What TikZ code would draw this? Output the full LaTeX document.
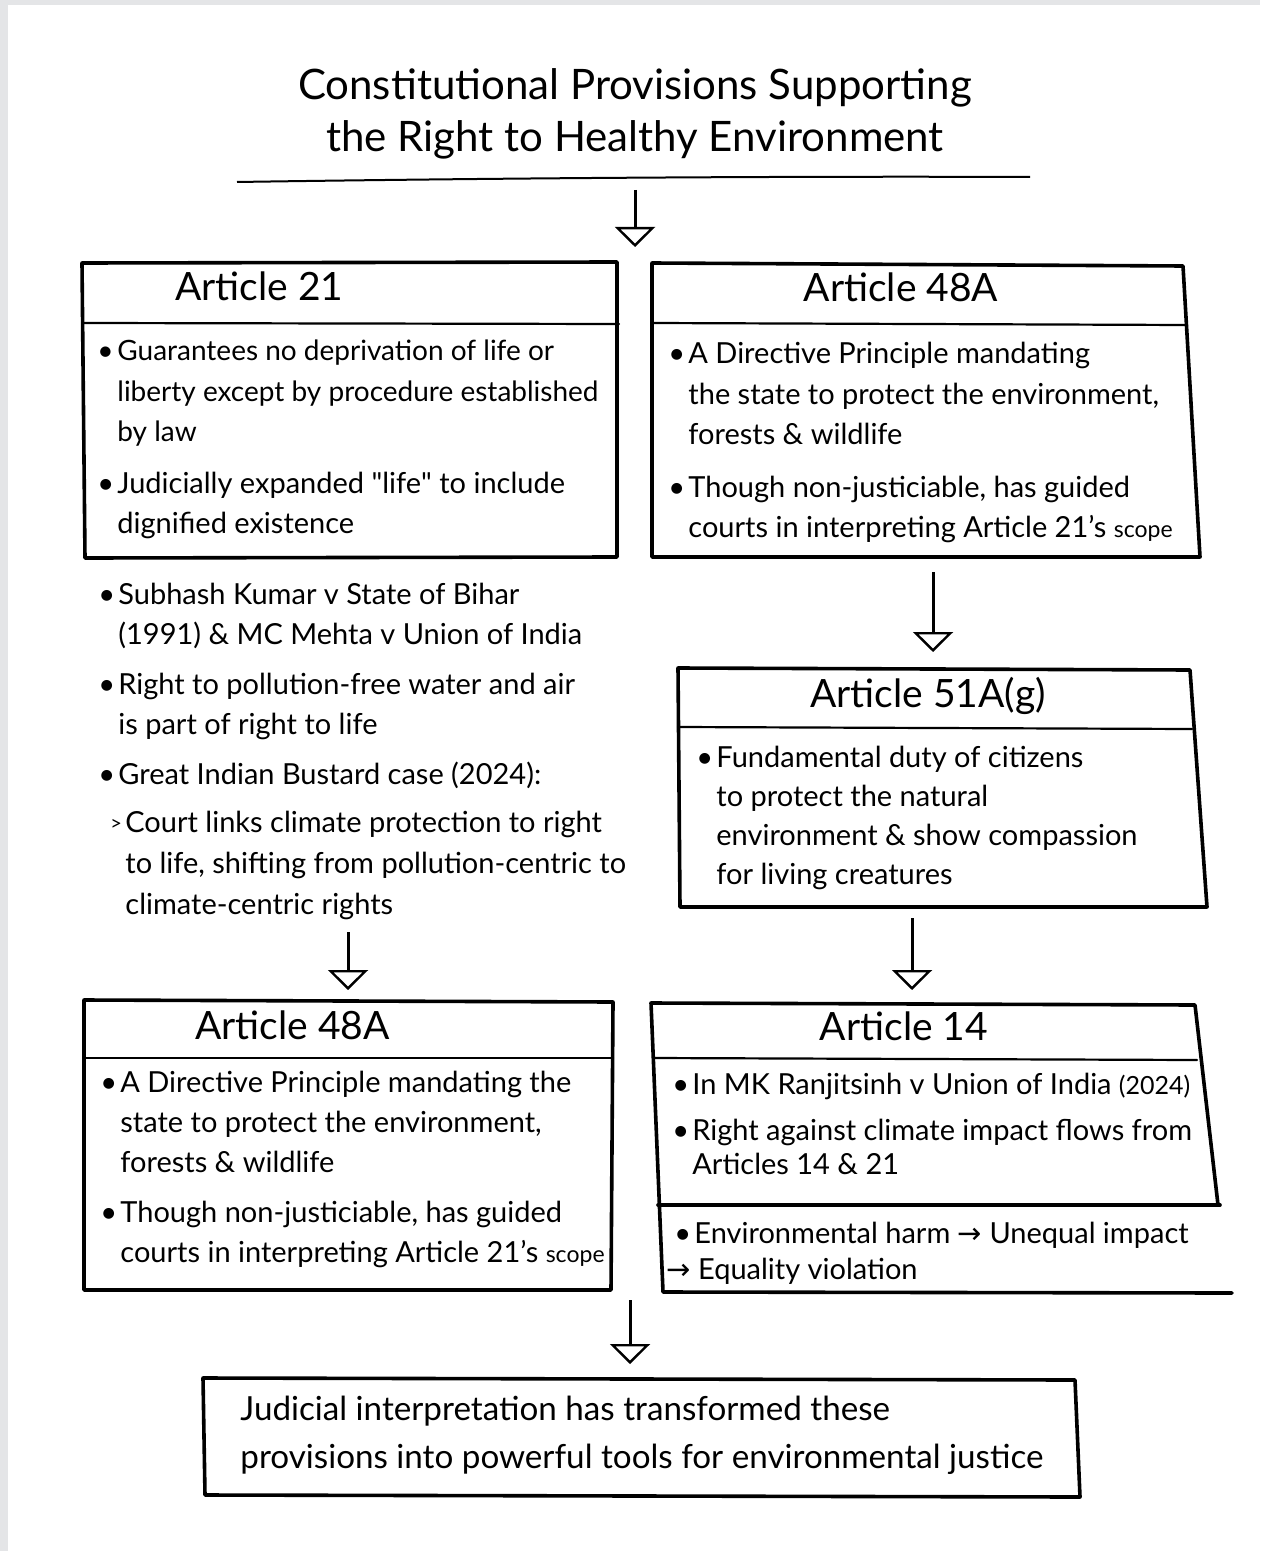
\documentclass[tikz,border=0pt]{standalone}
\usepackage{fontspec}
\setmainfont{Lato}
\newfontfamily\symf{DejaVu Sans}
\usetikzlibrary{arrows.meta}
\definecolor{stripgray}{HTML}{E4E5E7}
\newcommand\bul{\makebox[10pt][l]{\textbullet}}
\newcommand\ind{\hspace*{10pt}}
\newcommand\subm{\makebox[7.5pt][l]{\raisebox{1pt}{\fontsize{10}{10}\selectfont >}}}
\newcommand\subind{\hspace*{7.5pt}}
\begin{document}
\begin{tikzpicture}[x=0.5pt,y=-0.5pt,
  boxline/.style={line width=1.8pt, line join=round, line cap=round},
  divline/.style={line width=1.1pt, line cap=round},
  flow/.style={line width=1.5pt, -{Triangle[open,length=10pt,width=20pt,line width=1.2pt]}},
  titletext/.style={font=\fontsize{21}{26}\selectfont, align=center, inner sep=0pt},
  heading/.style={font=\fontsize{19.5}{24}\selectfont, inner sep=0pt},
  body/.style={font=\fontsize{14.5}{20}\selectfont, align=left, inner sep=0pt, anchor=base west},
  closing/.style={font=\fontsize{16.6}{24}\selectfont, align=left, inner sep=0pt, anchor=base west}]

% page
\fill[white] (0,0) rectangle (1260,1551);
\fill[stripgray] (0,0) rectangle (8,1551);
\fill[stripgray] (0,0) rectangle (1260,5);
\useasboundingbox (0,0) rectangle (1260,1551);

% title (multi-line nodes are placed by the baseline of their last line)
\node[titletext, anchor=base] (title) at (635,152)
  {Constitutional Provisions Supporting\\the Right to Healthy Environment};
\draw[line width=1pt] (237,182) .. controls (500,178) and (800,176) .. (1030,177);

% Article 21 box
\draw[boxline] (82,263) -- (617,262) -- (617,557) -- (85,558) -- cycle;
\draw[divline] (84,323) -- (619,324);
\node[heading, anchor=base west] (h21) at (175,301) {Article 21};
\node[body, font=\fontsize{14}{20}\selectfont] (a21a) at (97,441) {\bul Guarantees no deprivation of life or\\\ind liberty except by procedure established\\\ind by law};
\node[body] (a21b) at (97,533) {\bul Judicially expanded \textquotedbl life\textquotedbl{} to include\\\ind dignified existence};

% Article 48A box (top right)
\draw[boxline] (652,263) -- (1183,266) -- (1200,557) -- (652,557) -- cycle;
\draw[divline] (652,323) -- (1186,325);
\node[heading, anchor=base] (h48) at (901,302) {Article 48A};
\node[body] (b48a) at (668,444) {\bul A Directive Principle mandating\\\ind the state to protect the environment,\\\ind forests \& wildlife};
\node[body] (b48b) at (668,537) {\bul Though non-justiciable, has guided\\\ind courts in interpreting Article 21’s {\fontsize{11.5}{20}\selectfont scope}};

% case law under Article 21
\node[body] (m1) at (98,644) {\bul Subhash Kumar v State of Bihar\\\ind (1991) \& MC Mehta v Union of India};
\node[body] (m2) at (98,734) {\bul Right to pollution-free water and air\\\ind is part of right to life};
\node[body] (m3) at (98,784) {\bul Great Indian Bustard case (2024):};
\node[body, font=\fontsize{14.5}{20.5}\selectfont] (m4) at (110,914) {\subm Court links climate protection to right\\\subind to life, shifting from pollution-centric to\\\subind climate-centric rights};

% Article 51A(g) box
\draw[boxline] (678,668) -- (1190,670) -- (1207,907) -- (680,907) -- cycle;
\draw[divline] (678,727) -- (1192,729);
\node[heading, anchor=base] (h51) at (928,707) {Article 51A(g)};
\node[body, font=\fontsize{14.5}{19.5}\selectfont] (c51) at (696,884) {\bul Fundamental duty of citizens\\\ind to protect the natural\\\ind environment \& show compassion\\\ind for living creatures};

% Article 48A box (bottom left)
\draw[boxline] (84,1000) -- (613,1002) -- (611,1290) -- (84,1290) -- cycle;
\draw[divline] (84,1058) -- (613,1058);
\node[heading, anchor=base west] (h48b) at (195,1039) {Article 48A};
\node[body] (d48a) at (100,1172) {\bul A Directive Principle mandating the\\\ind state to protect the environment,\\\ind forests \& wildlife};
\node[body] (d48b) at (100,1262) {\bul Though non-justiciable, has guided\\\ind courts in interpreting Article 21’s {\fontsize{11.5}{20}\selectfont scope}};

% Article 14 box with open lower part
\draw[boxline] (1218,1205) -- (1195,1005) -- (651,1003) -- (663,1292) -- (1232,1293);
\draw[boxline] (658,1205) -- (1220,1205);
\draw[divline] (653,1058) -- (1197,1060);
\node[heading, anchor=base] (h14) at (904,1040) {Article 14};
\node[body] (e14a) at (672,1094) {\bul In MK Ranjitsinh v Union of India {\fontsize{12.5}{20}\selectfont(2024)}};
\node[body, font=\fontsize{14.5}{17}\selectfont] (e14b) at (672,1174) {\bul Right against climate impact flows from\\\ind Articles 14 \& 21};
\node[body, font=\fontsize{14.5}{18}\selectfont] (e14c) at (674,1279) {\bul Environmental harm {\symf→} Unequal impact\\\hspace*{-4pt}{\symf→} Equality violation};

% closing statement
\draw[boxline] (203,1378) -- (1075,1380) -- (1080,1497) -- (205,1495) -- cycle;
\node[closing] (fin) at (240,1468) {Judicial interpretation has transformed these\\provisions into powerful tools for environmental justice};

% connectors
\coordinate (t0) at (635,190);   \coordinate (t1) at (635,247);
\coordinate (b0) at (933,572);   \coordinate (b1) at (933,652);
\coordinate (c0) at (912,918);   \coordinate (c1) at (912,990);
\coordinate (m0) at (348,932);   \coordinate (m5) at (348,990);
\coordinate (f0) at (630,1300);  \coordinate (f1) at (630,1364);
\draw[flow] (t0) -- (t1);
\draw[flow] (b0) -- (b1);
\draw[flow] (c0) -- (c1);
\draw[flow] (m0) -- (m5);
\draw[flow] (f0) -- (f1);
\end{tikzpicture}
\end{document}
